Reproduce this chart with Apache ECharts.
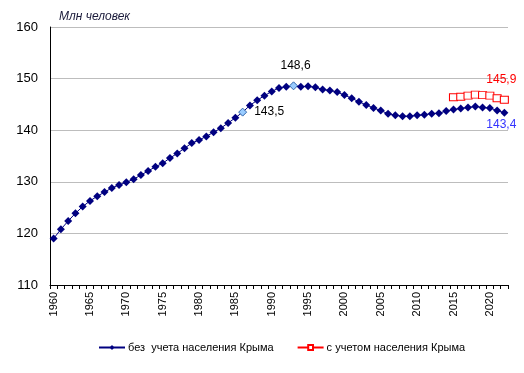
<!DOCTYPE html>
<html><head><meta charset="utf-8">
<script src="https://cdn.jsdelivr.net/npm/echarts@6/dist/echarts.min.js"></script>
<style>html,body{margin:0;padding:0;background:#fff}#c{width:524px;height:373px}</style>
</head><body><div id="c"></div>
<script>
const years = [];
for (let y = 1960; y <= 2022; y++) years.push(String(y));
const withoutCrimea = [119.0,120.8,122.4,123.9,125.2,126.3,127.2,128.0,128.8,129.4,
 129.9,130.5,131.3,132.1,132.9,133.6,134.6,135.5,136.5,137.5,
 138.1,138.8,139.6,140.4,141.4,142.4,143.5,144.8,145.8,146.7,
 147.5,148.2,148.4,148.6,148.4,148.5,148.3,147.9,147.7,147.4,
 146.8,146.2,145.5,144.9,144.3,143.8,143.2,142.9,142.7,142.7,
 142.9,143.0,143.2,143.3,143.7,144.0,144.2,144.4,144.6,144.4,
 144.3,143.8,143.4];
const crimeaYears = ['2015','2016','2017','2018','2019','2020','2021','2022'];
const withCrimea = [146.4,146.5,146.7,146.9,146.8,146.7,146.2,145.9];
const fmt = v => String(v.toFixed(1)).replace('.', ',');

const blueData = withoutCrimea.map((v, i) => {
  const yr = years[i];
  if (yr === '1986') return {value: v, itemStyle:{color:'#99ccff', borderColor:'#3366aa', borderWidth:1},
    label:{show:true, position:'right', distance:7, color:'#000', fontSize:12, formatter: fmt(v)}};
  if (yr === '1993') return {value: v, itemStyle:{color:'#99ccff', borderColor:'#3366aa', borderWidth:1},
    label:{show:true, position:'top', distance:10, offset:[2,0], color:'#000', fontSize:12, formatter: fmt(v)}};
  if (i === withoutCrimea.length - 1) return {value: v,
    label:{show:true, position:'bottom', distance:2, offset:[-3,0], color:'#3333ff', fontSize:12, formatter: fmt(v)}};
  return v;
});
const redData = years.map(yr => {
  const k = crimeaYears.indexOf(yr);
  if (k < 0) return '-';
  const v = withCrimea[k];
  if (k === withCrimea.length - 1) return {value: v,
    label:{show:true, position:'top', distance:10, offset:[-3,0], color:'#ff0000', fontSize:12, formatter: fmt(v)}};
  return v;
});

const chart = echarts.init(document.getElementById('c'), null, {renderer:'canvas'});
chart.setOption({
  animation:false,
  textStyle:{fontFamily:'Liberation Sans, Arial, sans-serif'},
  title:{text:'Млн человек', left:54, top:6,
    textStyle:{fontSize:12, fontStyle:'italic', fontWeight:'normal', color:'#1a1a3a'}},
  grid:{left:50, right:16, top:27, bottom:88, containLabel:false},
  legend:{top:337, left:93, itemGap:23, itemWidth:26, itemHeight:6,
    textStyle:{fontSize:11, color:'#000', padding:[0,0,0,-2]},
    data:['без  учета населения Крыма','с учетом населения Крыма']},
  xAxis:{type:'category', data:years, boundaryGap:true,
    axisLine:{lineStyle:{color:'#000', width:1}},
    axisTick:{show:true, interval:0, length:4, lineStyle:{color:'#000'}},
    axisLabel:{interval:4, rotate:90, fontSize:11, color:'#000', margin:7}},
  yAxis:{type:'value', min:110, max:160, interval:10,
    axisLine:{show:true, lineStyle:{color:'#000', width:1}},
    axisTick:{show:false},
    splitLine:{lineStyle:{color:'#bdbdbd', width:1}},
    axisLabel:{fontSize:13, color:'#000', margin:12}},
  series:[
    {name:'без  учета населения Крыма', type:'line', data:blueData,
      symbol:'diamond', symbolSize:8, showAllSymbol:true,
      lineStyle:{color:'#000080', width:1}, itemStyle:{color:'#000080'}},
    {name:'с учетом населения Крыма', type:'line', data:redData,
      symbol:'rect', symbolSize:[8,7], showAllSymbol:true,
      lineStyle:{color:'#ff0000', width:1},
      itemStyle:{color:'#ffffff', borderColor:'#ff0000', borderWidth:1}}
  ]
});
</script></body></html>
